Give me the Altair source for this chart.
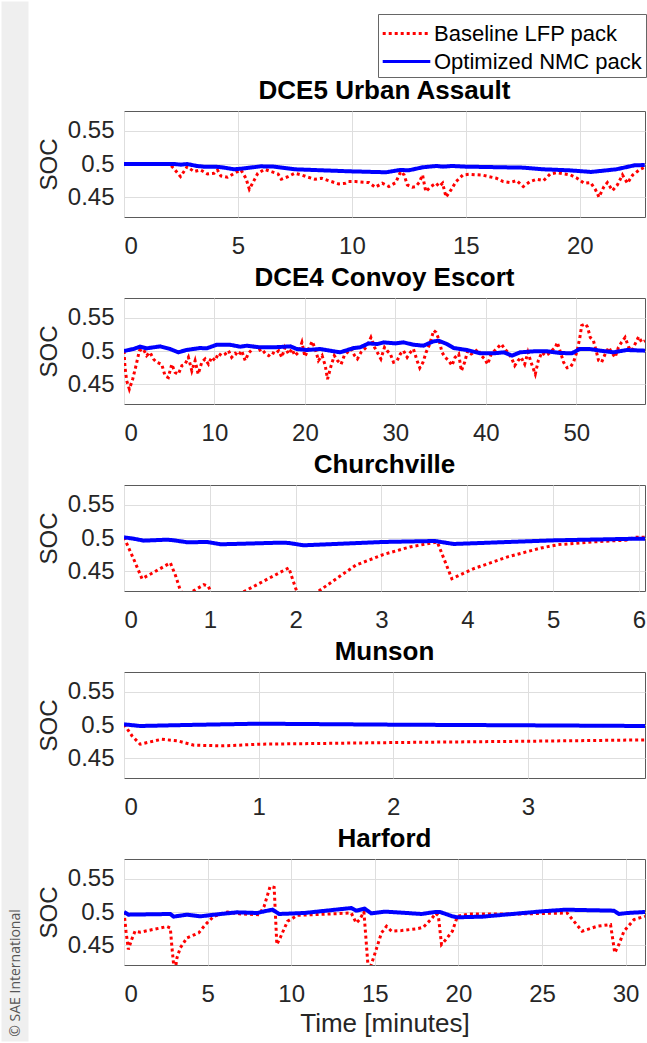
import altair as alt
import pandas as pd

FONT = "Liberation Sans"
SERIES = ["Baseline LFP pack", "Optimized NMC pack"]
COLORS = ["#ff0000", "#0000ff"]

titles = ["DCE5 Urban Assault", "DCE4 Convoy Escort", "Churchville", "Munson", "Harford"]
x_max = [22.86, 57.6, 6.07, 3.87, 31.16]
x_ticks = [[0, 5, 10, 15, 20], [0, 10, 20, 30, 40, 50], [0, 1, 2, 3, 4, 5, 6],
           [0, 1, 2, 3], [0, 5, 10, 15, 20, 25, 30]]
y_ticks = [0.45, 0.5, 0.55]

# ---- DCE5 Urban Assault ----
p1_red_t = [0, 2.0, 2.18, 2.48, 2.77, 3.07, 3.36, 3.66, 3.95, 4.10, 4.25, 4.54, 4.84, 5.13, 5.35, 5.50,
            5.72, 5.87, 6.17, 6.46, 6.76, 6.90, 7.20, 7.49, 7.79, 8.08, 8.38, 8.67, 8.97, 9.41, 9.71,
            9.85, 10.15, 10.74, 11.03, 11.33, 11.62, 11.92, 12.14, 12.29, 12.43, 12.65, 12.80, 12.95,
            13.10, 13.24, 13.47, 13.69, 13.83, 13.98, 14.13, 14.35, 14.57, 14.87, 15.16, 15.75, 16.34,
            16.64, 16.93, 17.23, 17.52, 17.82, 18.11, 18.41, 18.70, 19.00, 19.59, 19.88, 20.18, 20.47,
            20.69, 20.84, 21.06, 21.21, 21.43, 21.65, 21.87, 22.09, 22.32, 22.61, 22.83]
p1_red_v = [0.5, 0.5, 0.4935, 0.481, 0.496, 0.4885, 0.491, 0.485, 0.486, 0.491, 0.482, 0.480, 0.486,
            0.491, 0.4785, 0.462, 0.476, 0.486, 0.492, 0.4885, 0.485, 0.477, 0.481, 0.486, 0.4835, 0.480,
            0.477, 0.4785, 0.475, 0.470, 0.471, 0.4735, 0.4735, 0.472, 0.465, 0.471, 0.466, 0.472, 0.4885,
            0.4835, 0.4685, 0.465, 0.466, 0.472, 0.4835, 0.4585, 0.466, 0.471, 0.466, 0.471, 0.450, 0.461,
            0.4735, 0.4835, 0.4845, 0.483, 0.4785, 0.4735, 0.472, 0.475, 0.466, 0.4735, 0.477, 0.475,
            0.485, 0.487, 0.4835, 0.4785, 0.471, 0.472, 0.461, 0.450, 0.466, 0.472, 0.460, 0.4685, 0.4835,
            0.471, 0.4835, 0.491, 0.495]
p1_blue_t = [0, 2.2, 2.5, 2.77, 3.2, 3.5, 4.0, 4.3, 4.84, 5.3, 6.0, 6.6, 7.5, 9.85, 11.5, 12.1, 12.5,
             13.1, 13.7, 14.0, 14.4, 15.0, 17.5, 18.4, 19.5, 20.5, 21.6, 22.4, 22.85]
p1_blue_v = [0.5, 0.5, 0.499, 0.5, 0.497, 0.496, 0.496, 0.495, 0.492, 0.4935, 0.4965, 0.496, 0.492,
             0.489, 0.4875, 0.491, 0.4905, 0.495, 0.497, 0.496, 0.497, 0.496, 0.4945, 0.492, 0.4905,
             0.488, 0.492, 0.498, 0.4985]

# ---- DCE4 Convoy Escort ----
p2_red_t = [0, 0.11, 0.3, 0.59, 0.96, 1.33, 1.7, 2.14, 2.5, 2.88, 3.25, 3.6, 4.17, 4.54, 4.9, 5.28,
            5.65, 6.0, 6.4, 6.75, 7.12, 7.5, 7.86, 8.2, 8.6, 8.97, 9.34, 9.7, 10.07, 10.44, 10.8, 11.2,
            11.55, 11.9, 12.3, 12.66, 13.0, 13.4, 13.76, 14.1, 14.5, 14.87, 15.24, 15.6, 16.0, 16.35,
            16.7, 17.1, 17.45, 17.8, 18.2, 18.56, 18.9, 19.3, 19.67, 20.0, 20.4, 20.8, 21.15, 21.5,
            21.9, 22.25, 22.5, 22.9, 23.25, 23.6, 24.0, 24.35, 24.7, 25.1, 25.5, 25.8, 26.2, 26.6, 26.9,
            27.3, 27.7, 28.0, 28.4, 28.8, 29.08, 29.45, 29.8, 30.2, 30.55, 30.9, 31.3, 31.66, 32.0,
            32.4, 32.7, 33.06, 33.4, 33.8, 34.24, 34.5, 34.8, 35.16, 35.5, 35.9, 36.26, 36.6, 37.0,
            37.3, 37.66, 38.0, 38.4, 38.77, 39.1, 39.5, 39.87, 40.2, 40.6, 40.98, 41.34, 41.7, 42.1,
            42.45, 42.8, 43.2, 43.56, 43.9, 44.3, 44.66, 45.0, 45.47, 45.8, 46.2, 46.6, 46.9, 47.3,
            47.7, 47.9, 48.2, 48.6, 49.0, 49.34, 49.7, 50.1, 50.4, 50.6, 51.0, 51.25, 51.55, 51.9,
            52.2, 52.47, 52.8, 53.2, 53.6, 53.9, 54.3, 54.66, 55.0, 55.4, 55.8, 56.15, 56.5, 56.9,
            57.25, 57.6]
p2_red_v = [0.5, 0.4755, 0.455, 0.4425, 0.4575, 0.478, 0.5005, 0.503, 0.493, 0.498, 0.488, 0.483,
            0.480, 0.4625, 0.460, 0.480, 0.4675, 0.465, 0.478, 0.480, 0.4905, 0.470, 0.4855, 0.465,
            0.483, 0.488, 0.480, 0.4905, 0.4855, 0.4965, 0.493, 0.4955, 0.5005, 0.4905, 0.4965, 0.493,
            0.5005, 0.4855, 0.4965, 0.5015, 0.5105, 0.5005, 0.503, 0.4965, 0.493, 0.498, 0.4955,
            0.5005, 0.4905, 0.5055, 0.4955, 0.503, 0.493, 0.498, 0.513, 0.4915, 0.503, 0.5145, 0.503,
            0.4855, 0.493, 0.478, 0.4575, 0.478, 0.493, 0.4855, 0.480, 0.493, 0.498, 0.503, 0.493,
            0.488, 0.498, 0.503, 0.508, 0.5205, 0.5055, 0.498, 0.488, 0.5055, 0.5005, 0.4955, 0.483,
            0.4855, 0.4955, 0.5005, 0.4905, 0.498, 0.503, 0.4855, 0.4745, 0.483, 0.498, 0.5105, 0.531,
            0.528, 0.518, 0.498, 0.4905, 0.4855, 0.478, 0.4905, 0.4955, 0.470, 0.483, 0.5005, 0.4955,
            0.498, 0.503, 0.493, 0.488, 0.480, 0.4955, 0.5005, 0.5055, 0.5105, 0.503, 0.498, 0.4905,
            0.478, 0.4855, 0.4905, 0.480, 0.498, 0.483, 0.465, 0.4855, 0.498, 0.493, 0.4955, 0.5005,
            0.5055, 0.513, 0.5005, 0.483, 0.4745, 0.4755, 0.483, 0.5005, 0.5205, 0.5385, 0.541, 0.536,
            0.5205, 0.5155, 0.5005, 0.4855, 0.483, 0.4955, 0.5055, 0.498, 0.4905, 0.5055, 0.513,
            0.5205, 0.5055, 0.5005, 0.5105, 0.5215, 0.513, 0.5155]
p2_blue_t = [0, 1.03, 1.77, 2.5, 4.0, 5.1, 6.0, 6.9, 8.4, 9.15, 10.26, 11.7, 12.85, 13.6, 15.05, 16.5,
             18.4, 19.1, 20.2, 21.7, 23.2, 23.9, 25.4, 26.1, 27.05, 28.0, 28.7, 30.0, 30.9, 32.0, 33.1,
             34.2, 34.8, 35.7, 36.45, 37.9, 39.4, 40.9, 42.0, 42.9, 43.8, 45.3, 46.8, 48.2, 49.5, 50.4,
             51.5, 52.65, 54.1, 55.6, 57.6]
p2_blue_v = [0.5, 0.503, 0.5065, 0.504, 0.507, 0.503, 0.498, 0.5015, 0.5045, 0.504, 0.5095, 0.5095,
             0.5065, 0.508, 0.5055, 0.5055, 0.507, 0.503, 0.5015, 0.503, 0.4995, 0.498, 0.5045, 0.5055,
             0.5115, 0.5105, 0.513, 0.5115, 0.513, 0.5095, 0.508, 0.5145, 0.5155, 0.5105, 0.5045,
             0.5015, 0.4965, 0.4965, 0.498, 0.493, 0.498, 0.4995, 0.4995, 0.497, 0.4965, 0.503, 0.503,
             0.5005, 0.498, 0.5015, 0.5005]

# ---- Churchville ----
p3_red_t = [0, 0.11, 0.21, 0.35, 0.54, 0.60, 0.65, 0.70, 0.82, 0.93, 0.98, 1.01, 1.05, 1.41, 1.92,
            2.0, 2.06, 2.27, 2.7, 3.02, 3.33, 3.65, 3.82, 4.08, 4.47, 4.86, 5.06, 5.45, 5.88, 5.94, 6.08]
p3_red_v = [0.501, 0.469, 0.4385, 0.4485, 0.4625, 0.4435, 0.4235, 0.410, 0.421, 0.4295, 0.4275, 0.4195,
            0.396, 0.420, 0.455, 0.424, 0.404, 0.420, 0.459, 0.475, 0.4865, 0.494, 0.4385, 0.454,
            0.4715, 0.485, 0.490, 0.494, 0.497, 0.501, 0.501]
p3_blue_t = [0, 0.11, 0.23, 0.5, 0.58, 0.74, 0.97, 1.13, 1.84, 1.92, 2.09, 3.02, 3.62, 3.84, 5.02, 6.0, 6.08]
p3_blue_v = [0.501, 0.499, 0.496, 0.4975, 0.4965, 0.4935, 0.494, 0.4905, 0.493, 0.4925, 0.489, 0.494,
             0.4955, 0.491, 0.4965, 0.499, 0.499]

# ---- Munson ----
p4_red_t = [0, 0.06, 0.12, 0.28, 0.4, 0.52, 0.74, 1.0, 2.0, 3.0, 3.87]
p4_red_v = [0.501, 0.4835, 0.471, 0.4785, 0.476, 0.4695, 0.4685, 0.471, 0.4735, 0.4755, 0.4775]
p4_blue_t = [0, 0.12, 0.46, 1.0, 2.0, 3.0, 3.87]
p4_blue_v = [0.501, 0.4985, 0.5, 0.502, 0.5005, 0.4995, 0.4985]

# ---- Harford ----
p5_red_t = [0, 0.12, 0.26, 0.46, 0.66, 0.96, 2.57, 2.77, 2.87, 2.97, 3.05, 3.17, 3.37, 3.77, 4.47,
            4.87, 5.37, 6.17, 6.97, 8.08, 8.38, 8.74, 8.98, 9.14, 9.34, 9.78, 10.38, 13.59, 13.89,
            14.09, 14.35, 14.59, 14.7, 14.99, 15.4, 15.7, 16.0, 16.6, 17.6, 17.9, 18.4, 18.65, 18.8,
            18.99, 19.24, 19.64, 19.94, 20.65, 23.5, 26.5, 27.4, 28.3, 29.1, 29.35, 29.6, 29.9, 30.5,
            31.16]
p5_red_v = [0.5, 0.471, 0.4435, 0.4585, 0.471, 0.4695, 0.478, 0.476, 0.446, 0.42, 0.41, 0.431, 0.446,
            0.461, 0.4685, 0.481, 0.4935, 0.5, 0.497, 0.496, 0.5085, 0.5385, 0.537, 0.451, 0.461,
            0.486, 0.495, 0.4985, 0.4835, 0.4885, 0.5, 0.42, 0.414, 0.436, 0.4685, 0.4785, 0.471,
            0.472, 0.475, 0.477, 0.49, 0.498, 0.4945, 0.451, 0.458, 0.471, 0.4935, 0.497, 0.497,
            0.4985, 0.471, 0.4785, 0.481, 0.4385, 0.451, 0.471, 0.4885, 0.4935]
p5_blue_t = [0, 0.26, 2.77, 2.97, 3.77, 4.57, 5.77, 6.77, 7.98, 8.38, 8.88, 9.28, 10.78, 13.59, 13.89,
             14.39, 14.79, 15.59, 16.0, 17.8, 18.6, 18.9, 19.64, 19.94, 21.45, 25.0, 26.4, 29.3, 29.6,
             30.1, 31.16]
p5_blue_v = [0.5, 0.496, 0.497, 0.493, 0.496, 0.4935, 0.497, 0.4995, 0.4985, 0.501, 0.5035, 0.497,
             0.4985, 0.506, 0.502, 0.505, 0.498, 0.5005, 0.5, 0.497, 0.5, 0.5, 0.4935, 0.492, 0.493,
             0.501, 0.5035, 0.502, 0.497, 0.4985, 0.5]

red_t = [p1_red_t, p2_red_t, p3_red_t, p4_red_t, p5_red_t]
red_v = [p1_red_v, p2_red_v, p3_red_v, p4_red_v, p5_red_v]
blue_t = [p1_blue_t, p2_blue_t, p3_blue_t, p4_blue_t, p5_blue_t]
blue_v = [p1_blue_v, p2_blue_v, p3_blue_v, p4_blue_v, p5_blue_v]

legend = alt.Legend(
    title=None, orient="none", legendX=377, legendY=13,
    symbolType="M-1.7,0H1.7", symbolSize=784, symbolStrokeWidth=3, symbolOffset=9,
    labelFontSize=22, labelFont=FONT, labelColor="black", labelOffset=12, labelLimit=400,
    strokeColor="#666666", fillColor="white", padding=4, rowPadding=1,
)
color_scale = alt.Scale(domain=SERIES, range=COLORS)
dash_scale = alt.Scale(domain=SERIES, range=[[3, 3], [1, 0]])

PW, PH = 521, 106


def panel(i, last):
    df_r = pd.DataFrame({"t": red_t[i], "soc": red_v[i], "series": SERIES[0]})
    df_b = pd.DataFrame({"t": blue_t[i], "soc": blue_v[i], "series": SERIES[1]})
    x = alt.X("t:Q", scale=alt.Scale(domain=[0, x_max[i]], nice=False, zero=False),
              axis=alt.Axis(values=x_ticks[i], format="d",
                            title="Time [minutes]" if last else None))
    y = alt.Y("soc:Q", scale=alt.Scale(domain=[0.42, 0.58], nice=False, zero=False),
              axis=alt.Axis(values=y_ticks, format="~g", title="SOC"))
    color = alt.Color("series:N", scale=color_scale, legend=legend)
    dash = alt.StrokeDash("series:N", scale=dash_scale, legend=legend)
    red = alt.Chart(df_r).mark_line(clip=True, strokeWidth=3, strokeCap="butt").encode(
        x=x, y=y, color=color, strokeDash=dash)
    blue = alt.Chart(df_b).mark_line(clip=True, strokeWidth=4).encode(
        x=x, y=y, color=color, strokeDash=dash)
    return alt.layer(red, blue).properties(
        width=PW, height=PH,
        title=alt.TitleParams(titles[i], fontSize=26, font=FONT, fontWeight="bold",
                              color="black", offset=7, anchor="middle"))


spacer = alt.Chart(pd.DataFrame({"a": [0]})).mark_point(opacity=0).properties(
    width=PW, height=70, view=alt.ViewBackground(stroke="transparent"))

main = alt.vconcat(spacer, *[panel(i, i == 4) for i in range(5)], spacing=5).resolve_scale(
    x="independent")

strip = alt.Chart(pd.DataFrame({"txt": ["\u00a9 SAE International"]})).mark_text(
    angle=270, fontSize=14, font="Open Sans", color="#555555", align="center", baseline="middle"
).encode(x=alt.value(15), y=alt.value(972), text="txt:N").properties(
    width=27, height=1040, view=alt.ViewBackground(fill="#efefef", stroke="transparent"))

chart = alt.hconcat(strip, main, spacing=7).properties(
    padding=0, background="white"
).configure_view(
    stroke="#5a5a5a", strokeWidth=1
).configure_axis(
    labelFont=FONT, titleFont=FONT, labelFontSize=24, titleFontSize=24,
    labelColor="#262626", titleColor="#262626", titleFontWeight="normal",
    gridColor="#dedede", gridWidth=1, domain=False, ticks=False,
).configure_axisX(
    labelPadding=17, titlePadding=4, titleFontSize=26,
).configure_axisY(
    labelPadding=10, titlePadding=6,
)

chart.save("out.html", embed_options={"renderer": "svg", "actions": False})
